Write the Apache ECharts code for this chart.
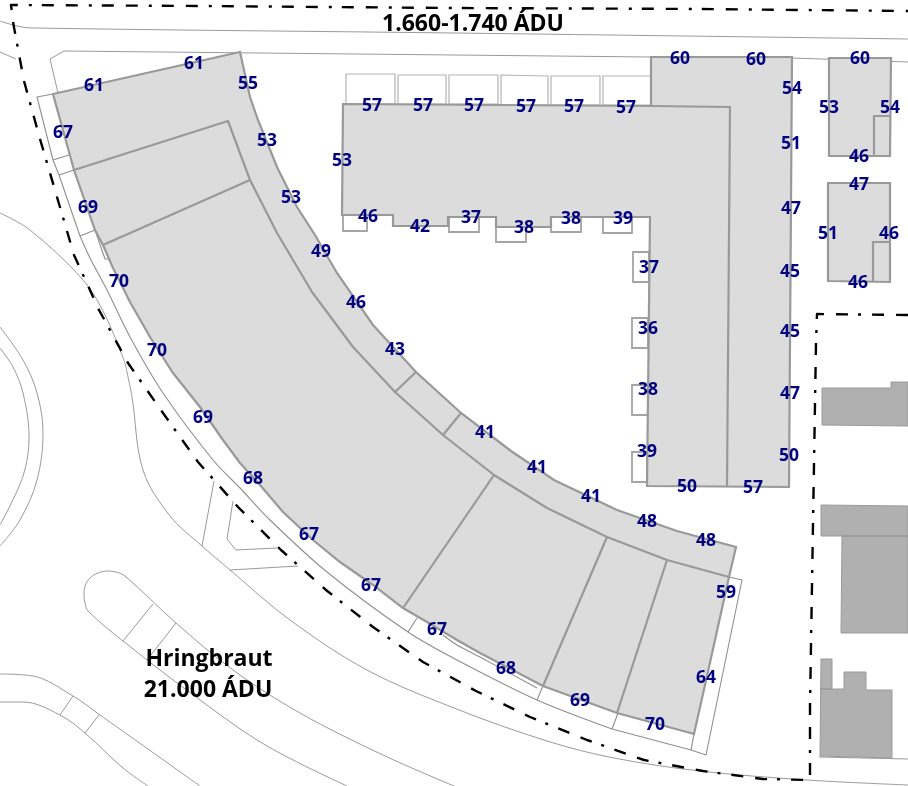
<!DOCTYPE html>
<html>
<head>
<meta charset="utf-8">
<style>html,body{margin:0;padding:0;background:#fff}#c{width:908px;height:786px}</style>
<script src="https://cdn.jsdelivr.net/npm/echarts@6/dist/echarts.min.js"></script>
</head>
<body>
<div id="c"></div>
<script>
// value labels on facades
var labelValues = [61,61,55,67,53,53,69,49,70,46,43,70,69,68,67,67,67,68,69,70,64,59,48,48,41,41,41,
  53,57,57,57,57,57,57,46,42,37,38,38,39,37,36,38,39,50,57,50,47,45,45,47,51,54,60,60,
  60,53,54,46,47,51,46,46];
var labelX = [94,194,248,63,267,291,88,321,119,356,395,157,203,253,309,371,437,506,580,655,706,726,706,647,591,537,485,
  342,372,423,474,526,574,626,368,420,471,524,571,623,649,648,648,647,687,753,789,790,790,790,791,791,792,680,756,
  860,829,890,859,859,828,889,858];
var labelY = [85,63,83,132,140,197,207,251,281,302,349,350,417,478,534,585,629,668,700,724,677,592,540,521,496,467,432,
  160,105,105,105,106,106,107,216,226,217,227,218,218,267,328,389,451,486,487,455,393,331,271,208,143,88,58,59,
  58,107,107,156,184,233,233,282];
var roadLabels = ['1.660-1.740 ÁDU','Hringbraut','21.000 ÁDU'];
var roadLabelX = [473,209,208];
var roadLabelY = [23,658,689];

// buildings
var curvedBlock = [[53,94],[240,52],[250,97],[258,120],[277,167],[297,207],[315,235],[337,273],[373,325],[416,372],[461,413],[511,451],[554,480],[617,510],[677,531],[736,547],[729,577],[707,676],[694,734],[617,713],[543,686],[480,653],[457,640],[427,622],[403,608],[373,585],[340,562],[313,540],[283,512],[260,485],[240,463],[223,440],[200,407],[173,373],[150,337],[130,302],[113,268],[103,245],[95,230],[74,170]];
var lBlock = [[343,104],[651,106],[651,57],[792,57],[789,487],[647,486],[650,217],[551,217],[551,227],[496,227],[496,217],[448,217],[448,226],[393,226],[393,215],[342,215]];
var houseA = [[829,58],[891,58],[890,156],[829,156]];
var houseB = [[828,183],[890,183],[890,282],[828,281]];
var neighbourA = [[822,388],[891,388],[891,382],[908,382],[908,426],[822,425]];
var neighbourB = [[821,505],[908,506],[908,633],[841,633],[842,536],[821,536]];
var neighbourC = [[821,659],[832,659],[832,689],[844,689],[844,672],[866,672],[866,690],[892,690],[892,758],[820,756]];

// inner walls
var innerWalls = [
  [[74,170],[228,121],[250,180],[277,233],[312,292],[353,347],[395,392],[443,435],[494,475],[547,508],[607,537],[667,560],[729,577]],
  [[103,245],[250,180]],
  [[395,392],[416,372]],
  [[443,435],[461,413]],
  [[494,475],[403,608]],
  [[607,537],[543,686]],
  [[667,560],[617,713]],
  [[651,106],[730,107],[727,486]],
  [[874,156],[874,116],[890,116]],
  [[873,282],[873,242],[890,242]]
];
var neighbourWalls = [
  [[842,536],[908,536]],
  [[820,689],[832,689]]
];

// balconies
var topBalconies = [
  [[346,74],[395,74],[395,104],[346,104]],[[398,75],[446,75],[446,104],[398,104]],
  [[449,75],[498,75],[498,104],[449,104]],[[501,75],[548,76],[548,105],[501,105]],
  [[551,76],[600,76],[600,105],[551,105]],[[603,76],[651,76],[651,105],[603,105]]
];
var lowerBalconies = [
  [[343,215],[367,215],[367,231],[343,231]],[[449,217],[479,217],[479,232],[449,232]],
  [[496,227],[526,227],[526,242],[496,242]],[[551,217],[581,217],[581,232],[551,232]],
  [[603,217],[632,217],[632,233],[603,233]],
  [[633,252],[649,252],[649,282],[633,282]],[[632,318],[648,318],[648,348],[632,348]],
  [[632,385],[648,385],[648,415],[632,415]],[[632,452],[647,452],[647,482],[632,482]]
];

// plot outlines and streets
var plotLines = [
  [[53,94],[37,97],[53,160],[59,175],[80,236],[95,230]],
  [[53,160],[69,155]],[[59,175],[74,170]],
  [[95,230],[105,259],[110,259]],
  [[408,632],[417,618]],[[537,700],[543,686]],[[612,729],[618,713]],[[691,750],[694,734]],
  [[612,729],[691,750],[706,755],[742,580],[729,577]]
];
var curvedPlotLines = [
  [[80,236],[90,258],[107,290],[130,337],[163,393],[213,460],[240,488],[270,520],[327,572],[408,632],[457,660],[537,700],[612,729]],
  [[443,635],[457,645],[480,657],[537,688]]
];
var straightStreets = [
  [[50,59],[64,51],[454,55],[651,57],[792,58],[908,62]],
  [[50,59],[58,93]],
  [[0,52],[16,59]],
  [[819,757],[908,759]],
  [[214,481],[202,546]],
  [[233,501],[227,539],[236,550],[277,548]],
  [[230,570],[298,566]],
  [[153,604],[123,641]],[[176,623],[147,660]],
  [[73,696],[60,715]],[[99,715],[85,733]]
];
var curvedStreets = [
  [[0,21],[17,26],[33,28],[454,33],[908,39]],
  [[0,213],[30,230],[83,280],[105,315],[125,363]],
  [[125,363],[132,397],[143,470],[170,516],[202,546],[230,570],[290,620],[367,670],[454,708],[547,741],[614,758],[700,771],[807,780],[908,785]],
  [[454,786],[383,755],[300,713],[233,670],[176,623],[125,576],[116,572],[108,571],[98,573],[90,578],[85,586],[84,595],[85,603],[88,611],[123,641],[200,700],[267,746],[347,786]],
  [[0,674],[33,676],[73,696],[100,715],[200,786]],
  [[0,702],[23,702],[60,715],[85,733],[123,768],[148,786]],
  [[0,327],[23,360],[37,393],[43,433],[37,480],[20,520],[0,546]],
  [[0,348],[13,367],[23,393],[29,436],[23,476],[0,525]]
];
// site boundary
var boundary = [[908,315],[817,314],[816,343],[815,403],[814,464],[813,524],[812,585],[811,645],[810,706],[810,780],[763,779],[703,771],[644,760],[587,740],[530,717],[476,691],[423,662],[373,627],[326,590],[281,550],[238,507],[198,462],[163,413],[128,363],[99,310],[74,255],[57,197],[40,139],[24,81],[13,22],[11,5],[200,6],[454,8],[700,9],[908,11]];

function polygonSeries(list, fill, stroke, width, z) {
  return {
    type: 'custom', coordinateSystem: 'cartesian2d', silent: true, z: z, animation: false,
    data: list.map(function (_, i) { return [i]; }),
    encode: { x: [], y: [] },
    renderItem: function (params, api) {
      var pts = list[params.dataIndex].map(function (p) { return api.coord(p); });
      return { type: 'polygon', shape: { points: pts }, style: { fill: fill, stroke: stroke, lineWidth: width } };
    }
  };
}
function lineSeries(pts, color, width, z, dash, smooth) {
  return {
    type: 'line', data: pts, showSymbol: false, silent: true, z: z, animation: false, smooth: smooth || false,
    lineStyle: { color: color, width: width, type: dash || 'solid', cap: 'butt', join: 'round' }
  };
}
var series = [];
straightStreets.forEach(function (s) { series.push(lineSeries(s, '#9a9a9a', 1, 1)); });
curvedStreets.forEach(function (s) { series.push(lineSeries(s, '#9a9a9a', 1, 1, null, 0.35)); });
plotLines.forEach(function (s) { series.push(lineSeries(s, '#8f8f8f', 1.1, 2)); });
curvedPlotLines.forEach(function (s) { series.push(lineSeries(s, '#8f8f8f', 1.1, 2, null, 0.3)); });
series.push(lineSeries(boundary, '#000000', 2.4, 3, [12, 12, 12, 11, 3, 10]));
series.push(polygonSeries(topBalconies, '#ffffff', '#b4b4b4', 1.2, 4));
series.push(polygonSeries(lowerBalconies, '#ffffff', '#a4a4a4', 1.8, 4));
series.push(polygonSeries([curvedBlock, lBlock, houseA, houseB], '#dcdcdc', '#999999', 2.2, 5));
series.push(polygonSeries([neighbourA, neighbourB, neighbourC], '#b0b0b0', '#9a9a9a', 1, 5));
innerWalls.forEach(function (s) { series.push(lineSeries(s, '#999999', 2.2, 6)); });
neighbourWalls.forEach(function (s) { series.push(lineSeries(s, '#8a8a8a', 1, 6)); });
series.push({
  type: 'scatter', symbolSize: 0, silent: true, z: 10, animation: false,
  itemStyle: { opacity: 1 },
  data: labelValues.map(function (v, i) { return { value: [labelX[i], labelY[i]], name: String(v) }; }),
  label: { show: true, position: 'inside', offset: [0, 1.5], formatter: '{b}', color: '#000080', fontFamily: 'Open Sans', fontWeight: 'bold', fontSize: 17.5 }
});
series.push({
  type: 'scatter', symbolSize: 0, silent: true, z: 10, animation: false,
  itemStyle: { opacity: 1 },
  data: roadLabels.map(function (v, i) { return { value: [roadLabelX[i], roadLabelY[i]], name: v }; }),
  label: { show: true, position: 'inside', offset: [0, 1], formatter: '{b}', color: '#000000', fontFamily: 'Open Sans', fontWeight: 'bold', fontSize: 23 }
});
var chart = echarts.init(document.getElementById('c'), null, { renderer: 'canvas' });
chart.setOption({
  animation: false,
  backgroundColor: '#ffffff',
  grid: { left: 0, right: 0, top: 0, bottom: 0 },
  xAxis: { type: 'value', min: 0, max: 908, show: false },
  yAxis: { type: 'value', min: 0, max: 786, inverse: true, show: false },
  series: series
});
</script>
</body>
</html>
